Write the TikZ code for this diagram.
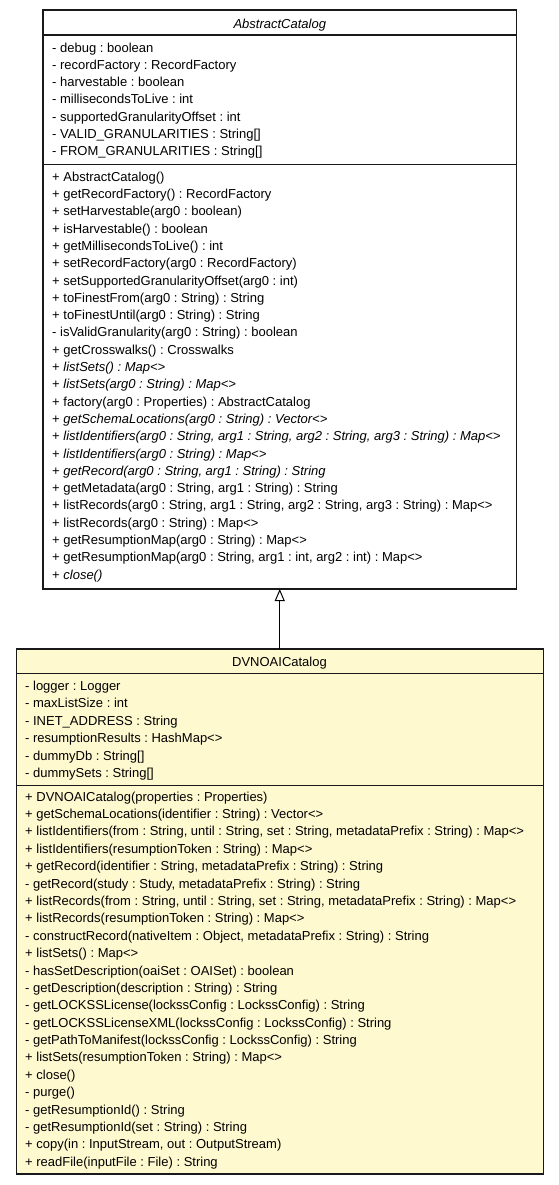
\documentclass[tikz,border=0pt]{standalone}
\usepackage{fontspec}
\setmainfont{Liberation Sans}
\usetikzlibrary{positioning, arrows.meta}
\definecolor{classfill}{RGB}{255,249,208}
\newcommand{\umlfont}{\fontsize{13bp}{15bp}\selectfont\frenchspacing}
\tikzset{
  >={Triangle[open, length=12bp, width=10bp]},
  classbox/.style={draw=black!90, line width=1.2bp, inner sep=0pt, outer sep=0pt},
  divider/.style={draw=black!90, line width=1.6bp},
  member/.style={anchor=base west, inner sep=0pt, font=\umlfont},
  classname/.style={anchor=base, inner sep=0pt, font=\umlfont},
}

\begin{document}
\begin{tikzpicture}[x=1bp, y=-1bp]
  \useasboundingbox (0,0) rectangle (559,1185);

  % classes
  \node[classbox, minimum width=473.5bp, minimum height=579bp] (abstract) at (279.75,299.5) {};
  \node[classbox, fill=classfill, minimum width=527bp, minimum height=525bp, below=60bp of abstract] (dvno) {};

  % compartments
  \draw[divider] ([yshift=-25bp]abstract.north west) -- ([yshift=-25bp]abstract.north east);
  \draw[divider] ([yshift=-154.5bp]abstract.north west) -- ([yshift=-154.5bp]abstract.north east);
  \draw[divider] ([yshift=-24.5bp]dvno.north west) -- ([yshift=-24.5bp]dvno.north east);
  \draw[divider] ([yshift=-136.5bp]dvno.north west) -- ([yshift=-136.5bp]dvno.north east);

  % AbstractCatalog
  \node[classname] (abs-name) at (279.75,28.5) {\textit{AbstractCatalog}};
  \foreach \txt [count=\i from 0] in {
      {- debug : boolean},
      {- recordFactory : RecordFactory},
      {- harvestable : boolean},
      {- millisecondsToLive : int},
      {- supportedGranularityOffset : int},
      {- VALID\_GRANULARITIES : String[]},
      {- FROM\_GRANULARITIES : String[]}}
    \node[member] (abs-a\i) at (52, 52.2+17.25*\i) {\txt};
  \foreach \txt [count=\i from 0] in {
      {+ AbstractCatalog()},
      {+ getRecordFactory() : RecordFactory},
      {+ setHarvestable(arg0 : boolean)},
      {+ isHarvestable() : boolean},
      {+ getMillisecondsToLive() : int},
      {+ setRecordFactory(arg0 : RecordFactory)},
      {+ setSupportedGranularityOffset(arg0 : int)},
      {+ toFinestFrom(arg0 : String) : String},
      {+ toFinestUntil(arg0 : String) : String},
      {- isValidGranularity(arg0 : String) : boolean},
      {+ getCrosswalks() : Crosswalks},
      {+ \textit{listSets() : Map<>}},
      {+ \textit{listSets(arg0 : String) : Map<>}},
      {+ factory(arg0 : Properties) : AbstractCatalog},
      {+ \textit{getSchemaLocations(arg0 : String) : Vector<>}},
      {+ \textit{listIdentifiers(arg0 : String, arg1 : String, arg2 : String, arg3 : String) : Map<>}},
      {+ \textit{listIdentifiers(arg0 : String) : Map<>}},
      {+ \textit{getRecord(arg0 : String, arg1 : String) : String}},
      {+ getMetadata(arg0 : String, arg1 : String) : String},
      {+ listRecords(arg0 : String, arg1 : String, arg2 : String, arg3 : String) : Map<>},
      {+ listRecords(arg0 : String) : Map<>},
      {+ getResumptionMap(arg0 : String) : Map<>},
      {+ getResumptionMap(arg0 : String, arg1 : int, arg2 : int) : Map<>},
      {+ \textit{close()}}}
    \node[member] (abs-m\i) at (52, 181.2+17.3*\i) {\txt};

  % DVNOAICatalog
  \node[classname] (dvno-name) at (279.5,666.2) {DVNOAICatalog};
  \foreach \txt [count=\i from 0] in {
      {- logger : Logger},
      {- maxListSize : int},
      {- INET\_ADDRESS : String},
      {- resumptionResults : HashMap<>},
      {- dummyDb : String[]},
      {- dummySets : String[]}}
    \node[member] (dvno-a\i) at (25, 690.5+17.45*\i) {\txt};
  \foreach \txt [count=\i from 0] in {
      {+ DVNOAICatalog(properties : Properties)},
      {+ getSchemaLocations(identifier : String) : Vector<>},
      {+ listIdentifiers(from : String, until : String, set : String, metadataPrefix : String) : Map<>},
      {+ listIdentifiers(resumptionToken : String) : Map<>},
      {+ getRecord(identifier : String, metadataPrefix : String) : String},
      {- getRecord(study : Study, metadataPrefix : String) : String},
      {+ listRecords(from : String, until : String, set : String, metadataPrefix : String) : Map<>},
      {+ listRecords(resumptionToken : String) : Map<>},
      {- constructRecord(nativeItem : Object, metadataPrefix : String) : String},
      {+ listSets() : Map<>},
      {- hasSetDescription(oaiSet : OAISet) : boolean},
      {- getDescription(description : String) : String},
      {- getLOCKSSLicense(lockssConfig : LockssConfig) : String},
      {- getLOCKSSLicenseXML(lockssConfig : LockssConfig) : String},
      {- getPathToManifest(lockssConfig : LockssConfig) : String},
      {+ listSets(resumptionToken : String) : Map<>},
      {+ close()},
      {- purge()},
      {- getResumptionId() : String},
      {- getResumptionId(set : String) : String},
      {+ copy(in : InputStream, out : OutputStream)},
      {+ readFile(inputFile : File) : String}}
    \node[member] (dvno-m\i) at (25, 801.2+17.38*\i) {\txt};

  % generalization
  \draw[->, line width=1bp] (dvno.north) -- (dvno.north |- abstract.south);
\end{tikzpicture}
\end{document}
